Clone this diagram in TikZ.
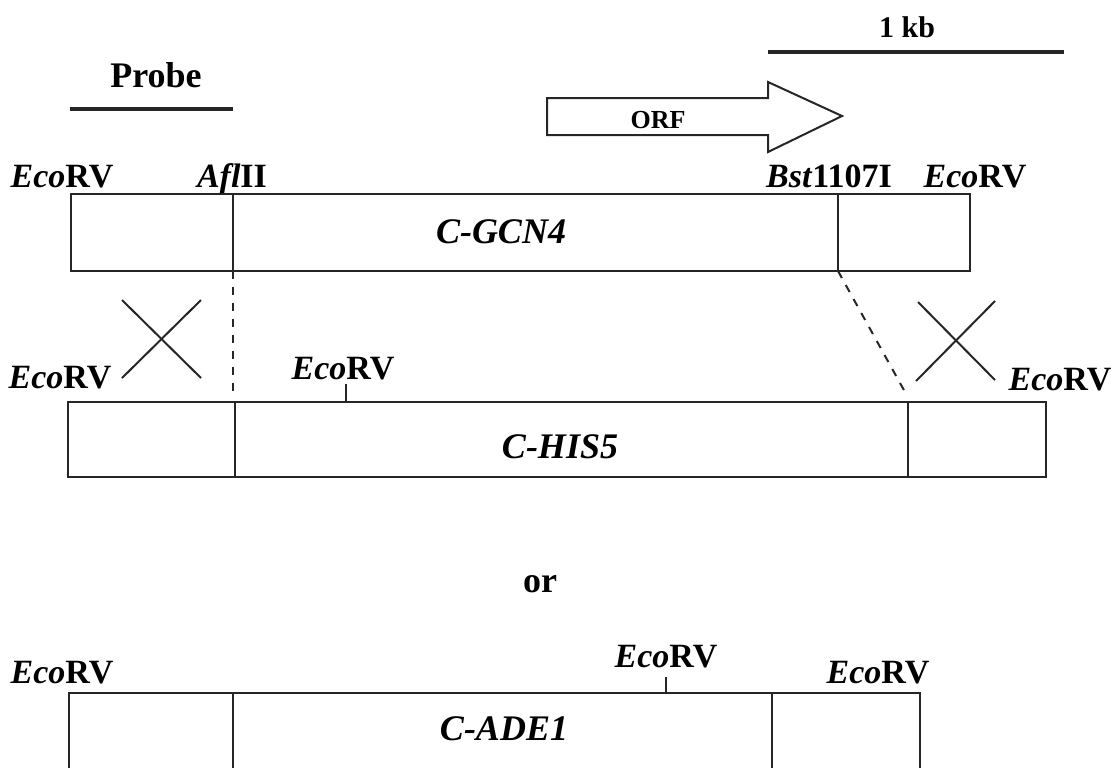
\documentclass[tikz,border=0pt]{standalone}
\usepackage{fontspec}
\setmainfont{Liberation Serif}
\usepackage{tikz}
\usetikzlibrary{
    positioning,
    calc
}
\tikzset{
    seg/.style={
        draw=black!85,
        line width=1pt
    },
    site/.style={
        font=\fontsize{17}{20}\selectfont\bfseries,
        anchor=base,
        inner sep=0pt
    },
    gene/.style={
        font=\fontsize{18}{22}\selectfont\bfseries\itshape,
        inner sep=0pt
    },
    head/.style={
        font=\fontsize{18}{22}\selectfont\bfseries,
        anchor=base,
        inner sep=0pt
    },
    note/.style={
        font=\fontsize{15}{18}\selectfont\bfseries,
        anchor=base,
        inner sep=0pt
    },
    bar/.style={
        draw=black!85,
        line width=2pt
    },
    link/.style={
        draw=black!85,
        line width=1pt,
        dash pattern=on 4pt off 4pt
    }
}
\newcommand{\eco}{\textit{Eco}RV}

\begin{document}
\begin{tikzpicture}[x=0.5pt, y=-0.5pt]
\useasboundingbox (0,0) rectangle (1111,768);

% scale bar and probe
\node[note] (kb) at (907,37) {1 kb};
\draw[bar] (768,52) -- (1064,52);
\node[head] (probe) at (156,87) {Probe};
\draw[bar] (70,109) -- (233,109);

% ORF arrow
\draw[seg] (547,98) -- (768,98) -- (768,82) -- (842,116) -- (768,152) -- (768,135) -- (547,135) -- cycle;
\node[note, font=\fontsize{13}{16}\selectfont\bfseries] (orf) at (658,128) {ORF};

% C-GCN4 fragment
\node[site] (gcnEcoL) at (62,187) {\eco};
\node[site] (gcnAfl) at (232,187) {\textit{Afl}II};
\node[site] (gcnBst) at (829,187) {\textit{Bst}1107I};
\node[site] (gcnEcoR) at (975,187) {\eco};
\draw[seg] (71,194) rectangle (970,271);
\coordinate (gcnA) at (233,271);
\coordinate (gcnB) at (838,271);
\draw[seg] (233,194) -- (gcnA);
\draw[seg] (838,194) -- (gcnB);
\node[gene] (gcn) at (501,232) {C-GCN4};

% crossovers
\draw[seg] (122,300) -- (201,378);
\draw[seg] (122,378) -- (201,300);
\draw[seg] (918,302) -- (995,380);
\draw[seg] (916,381) -- (995,301);

% C-HIS5 fragment
\node[site] (hisEcoL) at (60,388) {\eco};
\node[site] (hisEcoM) at (343,379) {\eco};
\node[site] (hisEcoR) at (1060,390) {\eco};
\draw[seg] (68,402) rectangle (1046,477);
\draw[seg] (235,402) -- (235,477);
\draw[seg] (908,402) -- (908,477);
\draw[seg] (346,384) -- (346,402);
\node[gene] (his) at (560,447) {C-HIS5};
\coordinate (hisA) at (233,392);
\coordinate (hisB) at (905,392);
\draw[link] (gcnA) -- (hisA);
\draw[link] (gcnB) -- (hisB);

\node[head] (or) at (540,592) {or};

% C-ADE1 fragment
\node[site] (adeEcoL) at (62,683) {\eco};
\node[site] (adeEcoM) at (666,667) {\eco};
\node[site] (adeEcoR) at (878,683) {\eco};
\draw[seg] (69,768) -- (69,693) -- (920,693) -- (920,768);
\draw[seg] (233,693) -- (233,768);
\draw[seg] (772,693) -- (772,768);
\draw[seg] (666,677) -- (666,693);
\node[gene] (ade) at (504,729) {C-ADE1};

\end{tikzpicture}
\end{document}
